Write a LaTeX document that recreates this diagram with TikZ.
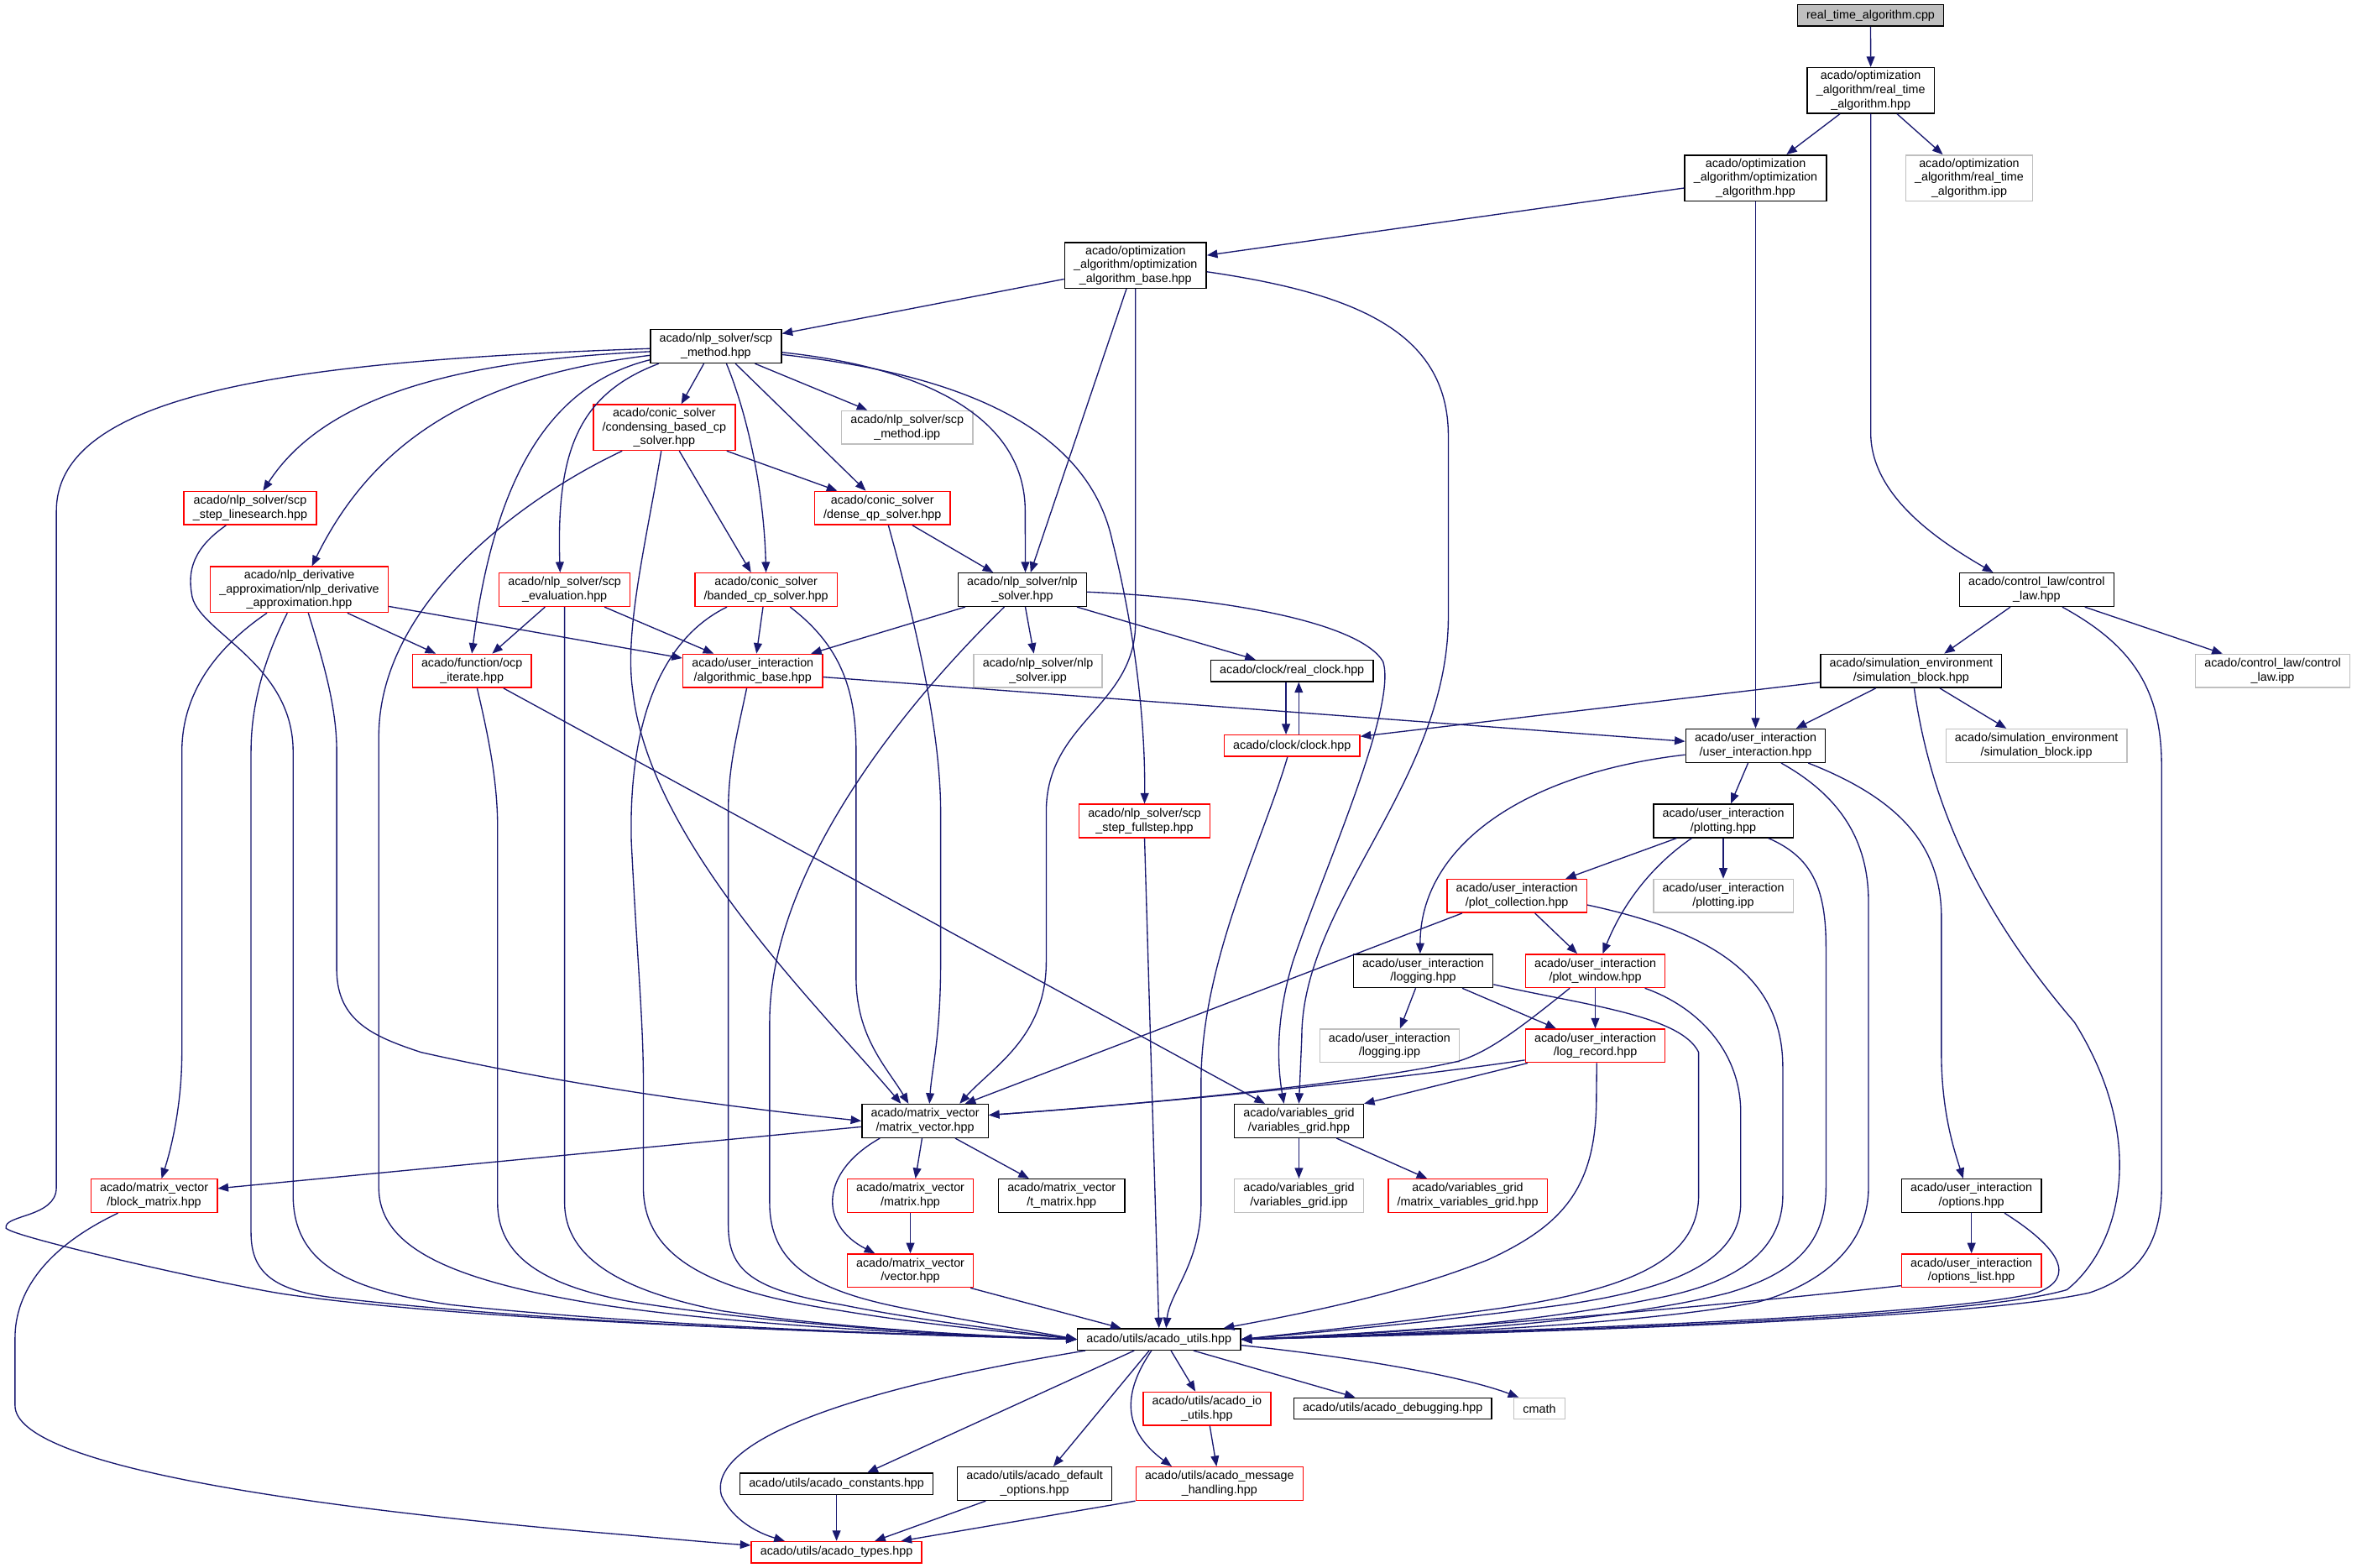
\documentclass[tikz,border=0pt]{standalone}
\usepackage{fontspec}
\usepackage{tikz}
\usetikzlibrary{arrows.meta}
\newfontfamily\graphfont{Liberation Sans}
\newcommand{\grfont}{\graphfont\fontsize{8}{9.3}\selectfont}
\definecolor{edgeblue}{HTML}{191970}
\definecolor{extgray}{HTML}{BFBFBF}
\definecolor{truncred}{HTML}{FF0000}

\begin{document}
\begin{tikzpicture}[x=1pt, y=-1pt,
  filebox/.style={draw=black, line width=0.8pt, align=center, inner xsep=6pt,
    inner ysep=0pt, font=\grfont},
  truncbox/.style={filebox, draw=truncred},
  extbox/.style={filebox, draw=extgray},
  rootbox/.style={filebox, fill=extgray},
  l1/.style={minimum height=14.2pt},
  l2/.style={minimum height=22.2pt},
  l3/.style={minimum height=30.4pt},
  dep/.style={draw=edgeblue, line width=0.75pt, -{Triangle[length=7pt, width=5.5pt]}}
]
\useasboundingbox (0,0) rectangle (1568,1043);

% files
\node[rootbox, l1] (cpp) at (1244.4,10.3) {real\_time\_algorithm.cpp};
\node[filebox, l3] (rtahpp) at (1244.5,60.2) {acado/optimization\\\_algorithm/real\_time\\\_algorithm.hpp};
\node[extbox, l3] (rtaipp) at (1310,118.4) {acado/optimization\\\_algorithm/real\_time\\\_algorithm.ipp};
\node[filebox, l3] (oahpp) at (1167.9,118.4) {acado/optimization\\\_algorithm/optimization\\\_algorithm.hpp};
\node[filebox, l3] (oabhpp) at (755.4,176.5) {acado/optimization\\\_algorithm/optimization\\\_algorithm\_base.hpp};
\node[filebox, l2] (scpmethod) at (476.25,230.4) {acado/nlp\_solver/scp\\\_method.hpp};
\node[extbox, l2] (scpipp) at (603.5,284.3) {acado/nlp\_solver/scp\\\_method.ipp};
\node[truncbox, l3] (condensing) at (441.9,284.4) {acado/conic\_solver\\/condensing\_based\_cp\\\_solver.hpp};
\node[truncbox, l2] (denseqp) at (587,338) {acado/conic\_solver\\/dense\_qp\_solver.hpp};
\node[truncbox, l2] (linesearch) at (166.4,338) {acado/nlp\_solver/scp\\\_step\_linesearch.hpp};
\node[truncbox, l3] (nlpderiv) at (199.1,392.2) {acado/nlp\_derivative\\\_approximation/nlp\_derivative\\\_approximation.hpp};
\node[truncbox, l2] (scpeval) at (375.6,392.3) {acado/nlp\_solver/scp\\\_evaluation.hpp};
\node[truncbox, l2] (banded) at (509.6,392.3) {acado/conic\_solver\\/banded\_cp\_solver.hpp};
\node[filebox, l2] (nlpsolver) at (680.1,392.3) {acado/nlp\_solver/nlp\\\_solver.hpp};
\node[filebox, l2] (controllaw) at (1354.9,392.3) {acado/control\_law/control\\\_law.hpp};
\node[truncbox, l2] (ocpiterate) at (313.9,446.3) {acado/function/ocp\\\_iterate.hpp};
\node[truncbox, l2] (algobase) at (500.75,446.3) {acado/user\_interaction\\/algorithmic\_base.hpp};
\node[extbox, l2] (nlpipp) at (690.5,446.3) {acado/nlp\_solver/nlp\\\_solver.ipp};
\node[filebox, l1] (realclock) at (859.5,446.3) {acado/clock/real\_clock.hpp};
\node[filebox, l2] (simblock) at (1271.4,446.3) {acado/simulation\_environment\\/simulation\_block.hpp};
\node[extbox, l2] (controlipp) at (1511.9,446.3) {acado/control\_law/control\\\_law.ipp};
\node[truncbox, l1] (clock) at (859.5,496.1) {acado/clock/clock.hpp};
\node[filebox, l2] (uihpp) at (1167.9,496.1) {acado/user\_interaction\\/user\_interaction.hpp};
\node[extbox, l2] (simipp) at (1354.75,496.1) {acado/simulation\_environment\\/simulation\_block.ipp};
\node[truncbox, l2] (fullstep) at (761.4,546.1) {acado/nlp\_solver/scp\\\_step\_fullstep.hpp};
\node[filebox, l2] (plotting) at (1146.4,546.1) {acado/user\_interaction\\/plotting.hpp};
\node[truncbox, l2] (plotcoll) at (1009.1,596) {acado/user\_interaction\\/plot\_collection.hpp};
\node[extbox, l2] (plottingipp) at (1146.4,596) {acado/user\_interaction\\/plotting.ipp};
\node[filebox, l2] (logging) at (946.75,645.9) {acado/user\_interaction\\/logging.hpp};
\node[truncbox, l2] (plotwindow) at (1061.25,645.9) {acado/user\_interaction\\/plot\_window.hpp};
\node[extbox, l2] (loggingipp) at (924.4,695.7) {acado/user\_interaction\\/logging.ipp};
\node[truncbox, l2] (logrecord) at (1061.25,695.7) {acado/user\_interaction\\/log\_record.hpp};
\node[filebox, l2] (vargrid) at (864.1,745.7) {acado/variables\_grid\\/variables\_grid.hpp};
\node[filebox, l2] (matvec) at (615.4,745.7) {acado/matrix\_vector\\/matrix\_vector.hpp};
\node[extbox, l2] (vgipp) at (864.1,795.5) {acado/variables\_grid\\/variables\_grid.ipp};
\node[truncbox, l2] (matvg) at (976.4,795.5) {acado/variables\_grid\\/matrix\_variables\_grid.hpp};
\node[truncbox, l2] (blockmat) at (102.5,795.5) {acado/matrix\_vector\\/block\_matrix.hpp};
\node[truncbox, l2] (matrix) at (605.6,795.5) {acado/matrix\_vector\\/matrix.hpp};
\node[filebox, l2] (tmatrix) at (706.25,795.5) {acado/matrix\_vector\\/t\_matrix.hpp};
\node[filebox, l2] (options) at (1311.5,795.5) {acado/user\_interaction\\/options.hpp};
\node[truncbox, l2] (vector) at (605.6,845.3) {acado/matrix\_vector\\/vector.hpp};
\node[truncbox, l2] (optlist) at (1311.5,845.3) {acado/user\_interaction\\/options\_list.hpp};
\node[filebox, l1] (utils) at (771,891) {acado/utils/acado\_utils.hpp};
\node[truncbox, l2] (ioutils) at (802.9,937.1) {acado/utils/acado\_io\\\_utils.hpp};
\node[filebox, l1] (debugging) at (926.5,937) {acado/utils/acado\_debugging.hpp};
\node[extbox, l1] (cmath) at (1024.1,937) {cmath};
\node[filebox, l1] (constants) at (556.5,987.1) {acado/utils/acado\_constants.hpp};
\node[filebox, l2] (defopts) at (688.25,987) {acado/utils/acado\_default\\\_options.hpp};
\node[truncbox, l2] (msghandling) at (811.25,987) {acado/utils/acado\_message\\\_handling.hpp};
\node[truncbox, l1] (types) at (556.5,1032.6) {acado/utils/acado\_types.hpp};

% top of the graph
\draw[dep] (cpp) -- (rtahpp);
\draw[dep] (rtahpp) -- (oahpp);
\draw[dep] (rtahpp) -- (rtaipp);
\draw[dep] (rtahpp.south) -- (1244.5,288) .. controls (1244.5,330) and (1290,360) .. ([xshift=-29pt]controllaw.north);
\draw[dep] (oahpp) -- (oabhpp);
\draw[dep] (oahpp) -- (uihpp);
\draw[dep] (oabhpp) -- (scpmethod);
\draw[dep] ([xshift=-6pt]oabhpp.south) -- ([xshift=5.5pt]nlpsolver.north);
\draw[dep] (oabhpp.south) -- (755.4,414) .. controls (755.4,470) and (696,480) .. (696,540) -- (696,640) .. controls (696,690) and (660,710) .. ([xshift=23pt]matvec.north);
\draw[dep] ([yshift=-4.3pt]oabhpp.east) .. controls (900,195) and (963.5,220) .. (963.5,290) -- (963.5,410) .. controls (963.5,520) and (866,600) .. (866,690) -- (vargrid.north);

% scp method
\draw[dep] ([yshift=-1.5pt]scpmethod.west) .. controls (200,240) and (37.5,260) .. (37.5,340) -- (37.5,790) .. controls (37.5,810) and (2,808) .. (4,817) .. controls (8,823) and (150,855) .. (190,861) .. controls (330,881) and (600,887) .. (utils.west);
\draw[dep] ([yshift=-3.5pt]scpmethod.west) .. controls (300,240) and (215,265) .. ([xshift=8.6pt]linesearch.north);
\draw[dep] ([yshift=-6pt]scpmethod.west) .. controls (320,250) and (250,290) .. ([xshift=8.4pt]nlpderiv.north);
\draw[dep] ([yshift=-9pt]scpmethod.west) .. controls (370,255) and (330,310) .. (ocpiterate.north);
\draw[dep] ([xshift=-38pt]scpmethod.south) .. controls (385,262) and (370,300) .. ([xshift=-3pt]scpeval.north);
\draw[dep] ([xshift=-8pt]scpmethod.south) -- ([xshift=11.3pt]condensing.north);
\draw[dep] ([xshift=7pt]scpmethod.south) .. controls (495,270) and (508,320) .. (banded.north);
\draw[dep] ([xshift=13pt]scpmethod.south) -- ([xshift=-11pt]denseqp.north);
\draw[dep] ([xshift=26pt]scpmethod.south) -- ([xshift=-26.5pt]scpipp.north);
\draw[dep] ([yshift=-4pt]scpmethod.east) .. controls (620,245) and (682,280) .. (682,340) -- ([xshift=2pt]nlpsolver.north);
\draw[dep] ([yshift=-5.5pt]scpmethod.east) .. controls (650,250) and (725,290) .. (740,360) .. controls (755,420) and (762,480) .. (fullstep.north);

% solvers
\draw[dep] ([xshift=-28pt]condensing.south) .. controls (350,330) and (252,400) .. (252,490) -- (252,790) .. controls (252,830) and (300,852) .. (400,868) .. controls (500,883) and (650,889) .. (utils.west);
\draw[dep] ([xshift=-2pt]condensing.south) .. controls (430,360) and (415,420) .. (421,460) .. controls (432,560) and (545,670) .. ([xshift=-16pt]matvec.north);
\draw[dep] ([xshift=10pt]condensing.south) -- ([xshift=-10pt]banded.north);
\draw[dep] ([xshift=-6pt]condensing.south east) -- ([xshift=15.5pt]denseqp.north west);
\draw[dep] ([xshift=20pt]denseqp.south) -- ([xshift=-19.4pt]nlpsolver.north);
\draw[dep] ([xshift=4pt]denseqp.south) .. controls (605,400) and (625.75,480) .. (625.75,540) -- (625.75,640) .. controls (625.75,690) and (620,710) .. ([xshift=2.9pt]matvec.north);
\draw[dep] ([xshift=-16pt]linesearch.south) .. controls (128,365) and (125,380) .. (127.5,395) .. controls (130,420) and (195,440) .. (195,500) -- (195,795) .. controls (195,840) and (230,858) .. (300,868) .. controls (450,884) and (650,889) .. (utils.west);
\draw[dep] ([xshift=-21.5pt]nlpderiv.south) .. controls (145,430) and (121,460) .. (121,500) -- (121,700) .. controls (121,740) and (112,770) .. ([xshift=5pt]blockmat.north);
\draw[dep] ([xshift=-8pt]nlpderiv.south) .. controls (175,440) and (167,470) .. (167,500) -- (167,820) .. controls (167,845) and (180,858) .. (220,863) .. controls (400,884) and (650,889) .. (utils.west);
\draw[dep] ([xshift=6pt]nlpderiv.south) .. controls (215,440) and (224,470) .. (224,500) -- (224,645) .. controls (224,680) and (250,690) .. (280,700) .. controls (400,727) and (520,740) .. (matvec.west);
\draw[dep] ([xshift=32pt]nlpderiv.south) -- ([xshift=-24pt]ocpiterate.north);
\draw[dep] ([yshift=-11.2pt]nlpderiv.east) -- ([yshift=8.5pt]algobase.west);
\draw[dep] ([xshift=-13pt]scpeval.south) -- ([xshift=13.5pt]ocpiterate.north);
\draw[dep] (scpeval.south) -- (375.6,800) .. controls (375.6,840) and (420,860) .. (480,872) .. controls (560,884) and (660,889) .. (utils.west);
\draw[dep] ([xshift=26.5pt]scpeval.south) -- ([xshift=-26pt]algobase.north);
\draw[dep] ([xshift=3.5pt]ocpiterate.south) .. controls (325,490) and (331,520) .. (331,550) -- (331,800) .. controls (331,835) and (360,855) .. (420,866) .. controls (520,882) and (650,889) .. (utils.west);
\draw[dep] ([xshift=21pt]ocpiterate.south) -- ([xshift=-22.6pt]vargrid.north);
\draw[dep] ([xshift=-26pt]banded.south) .. controls (440,425) and (418,480) .. (420,560) .. controls (424,640) and (428,680) .. (428,720) -- (428,790) .. controls (428,840) and (480,860) .. (560,872) .. controls (620,882) and (680,887) .. (utils.west);
\draw[dep] ([xshift=-2pt]banded.south) -- ([xshift=2.5pt]algobase.north);
\draw[dep] ([xshift=16pt]banded.south) .. controls (560,430) and (569.5,460) .. (569.5,500) -- (569.5,650) .. controls (569.5,690) and (590,710) .. ([xshift=-11pt]matvec.north);
\draw[dep] ([xshift=-4pt]algobase.south) .. controls (490,490) and (484.5,510) .. (484.5,540) -- (484.5,815) .. controls (484.5,845) and (500,858) .. (560,868) .. controls (620,880) and (680,886) .. (utils.west);
\draw[dep] ([yshift=-4.1pt]algobase.east) -- ([yshift=2.9pt]uihpp.west);
\draw[dep] ([xshift=-38pt]nlpsolver.south) -- ([xshift=38.75pt]algobase.north);
\draw[dep] ([xshift=-12pt]nlpsolver.south) .. controls (600,470) and (512,580) .. (512,680) -- (512,800) .. controls (512,840) and (540,858) .. (600,870) .. controls (650,880) and (690,886) .. (utils.west);
\draw[dep] ([xshift=2pt]nlpsolver.south) -- ([xshift=-2.75pt]nlpipp.north);
\draw[dep] ([xshift=-6.75pt]nlpsolver.south east) -- ([xshift=-24.25pt]realclock.north);
\draw[dep] ([yshift=-1.5pt]nlpsolver.east) .. controls (820,398) and (905,415) .. (920,440) .. controls (930,470) and (880,580) .. (860,640) .. controls (848,680) and (850,710) .. ([xshift=-10pt]vargrid.north);

% clock, simulation, control law
\draw[dep] ([xshift=-4pt]realclock.south) -- ([xshift=-4pt]clock.north);
\draw[dep] ([xshift=4.5pt]clock.north) -- ([xshift=4.5pt]realclock.south);
\draw[dep] ([xshift=-3pt]clock.south) .. controls (840,560) and (799,640) .. (799,720) -- (799,800) .. controls (799,840) and (778,860) .. ([xshift=4.75pt]utils.north);
\draw[dep] ([yshift=-7.6pt]simblock.west) -- ([yshift=6.2pt]clock.east);
\draw[dep] ([xshift=-23.5pt]simblock.south) -- ([xshift=26.9pt]uihpp.north);
\draw[dep] ([xshift=19pt]simblock.south) -- ([xshift=-20pt]simipp.north);
\draw[dep] ([xshift=2pt]simblock.south) .. controls (1285,540) and (1320,610) .. (1380,680) .. controls (1430,760) and (1410,830) .. (1375,858) .. controls (1300,880) and (950,887) .. (utils.east);
\draw[dep] ([xshift=-17.5pt]controllaw.south) -- ([xshift=22pt]simblock.north);
\draw[dep] ([xshift=32pt]controllaw.south) -- ([xshift=-33.4pt]controlipp.north);
\draw[dep] ([xshift=17pt]controllaw.south) .. controls (1420,430) and (1438,460) .. (1438,510) -- (1438,790) .. controls (1438,830) and (1420,850) .. (1390,860) .. controls (1300,880) and (950,888) .. (utils.east);

% user interaction
\draw[dep] ([xshift=-5pt]uihpp.south) -- ([xshift=5pt]plotting.north);
\draw[dep] ([yshift=-6pt]uihpp.west) .. controls (1010,515) and (944.75,565) .. ([xshift=-2pt]logging.north);
\draw[dep] ([xshift=17pt]uihpp.south) .. controls (1225,530) and (1243,560) .. (1243,600) -- (1243,790) .. controls (1243,830) and (1210,855) .. (1170,866) .. controls (1100,880) and (950,888) .. (utils.east);
\draw[dep] ([xshift=35pt]uihpp.south) .. controls (1260,530) and (1291.5,560) .. (1291.5,610) -- (1291.5,700) .. controls (1291.5,740) and (1300,765) .. ([xshift=-5.5pt]options.north);
\draw[dep] ([xshift=-31pt]plotting.south) -- ([xshift=32.4pt]plotcoll.north);
\draw[dep] ([xshift=-21pt]plotting.south) .. controls (1100,575) and (1080,600) .. ([xshift=5pt]plotwindow.north);
\draw[dep] (plotting) -- (plottingipp);
\draw[dep] ([xshift=30pt]plotting.south) .. controls (1205,570) and (1214.75,590) .. (1214.75,630) -- (1214.75,790) .. controls (1214.75,830) and (1190,848) .. (1150,860) .. controls (1080,878) and (950,888) .. (utils.east);
\draw[dep] ([xshift=-36.4pt]plotcoll.south) -- ([xshift=26.6pt]matvec.north);
\draw[dep] ([xshift=12pt]plotcoll.south) -- ([xshift=-12pt]plotwindow.north);
\draw[dep] ([yshift=-6pt]plotcoll.east) .. controls (1140,620) and (1186,650) .. (1186,710) -- (1186,795) .. controls (1186,835) and (1150,855) .. (1100,864) .. controls (1020,880) and (920,888) .. (utils.east);
\draw[dep] ([xshift=-5pt]logging.south) -- ([xshift=7pt]loggingipp.north);
\draw[dep] ([xshift=26pt]logging.south) -- ([xshift=-26pt]logrecord.north);
\draw[dep] ([yshift=-9pt]logging.east) .. controls (1050,668) and (1118,675) .. (1130,700) -- (1130,795) .. controls (1130,840) and (1080,858) .. (1000,870) .. controls (930,880) and (870,886) .. (utils.east);
\draw[dep] (plotwindow) -- (logrecord);
\draw[dep] ([xshift=-17pt]plotwindow.south) .. controls (1010,685) and (990,700) .. (970,706) .. controls (900,722) and (740,736) .. ([yshift=3.9pt]matvec.east);
\draw[dep] ([xshift=33pt]plotwindow.south) .. controls (1130,670) and (1158,700) .. (1158,740) -- (1158,800) .. controls (1158,840) and (1110,858) .. (1040,868) .. controls (950,880) and (880,886) .. (utils.east);
\draw[dep] ([xshift=-45pt]logrecord.south) -- (vargrid.north east);
\draw[dep] ([yshift=-9.5pt]logrecord.west) .. controls (900,722) and (740,736) .. ([yshift=3.9pt]matvec.east);
\draw[dep] ([xshift=1pt]logrecord.south) -- (1062,730) .. controls (1062,790) and (1040,815) .. (990,838) .. controls (930,862) and (860,875) .. ([xshift=43pt]utils.north);
\draw[dep] (options) -- (optlist);
\draw[dep] ([xshift=22pt]options.south) .. controls (1370,830) and (1382,850) .. (1355,860) .. controls (1280,878) and (950,887) .. (utils.east);
\draw[dep] ([yshift=-10pt]optlist.west) .. controls (1150,868) and (950,886) .. (utils.east);

% grids and matrices
\draw[dep] (vargrid) -- (vgipp);
\draw[dep] ([xshift=25pt]vargrid.south) -- ([xshift=-27pt]matvg.north);
\draw[dep] ([yshift=-3.9pt]matvec.west) -- ([yshift=4.9pt]blockmat.east);
\draw[dep] ([xshift=-2pt]matvec.south) -- ([xshift=3.4pt]matrix.north);
\draw[dep] ([xshift=20pt]matvec.south) -- ([xshift=-21.75pt]tmatrix.north);
\draw[dep] ([xshift=-30pt]matvec.south) .. controls (545,780) and (545,815) .. ([xshift=-23.6pt]vector.north);
\draw[dep] (matrix) -- (vector);
\draw[dep] ([xshift=40pt]vector.south) -- ([xshift=-25.25pt]utils.north);
\draw[dep] (fullstep.south) -- (utils.north);
\draw[dep] ([xshift=-24pt]blockmat.south) .. controls (30,830) and (10,860) .. (10,890) -- (10,935) .. controls (10,975) and (200,1002) .. (392,1019) .. controls (440,1023) and (470,1026) .. ([yshift=4.6pt]types.west);

% utils
\draw[dep] ([xshift=-49pt]utils.south) .. controls (560,925) and (470,960) .. (480,995) .. controls (488,1012) and (505,1020) .. ([xshift=-34.5pt]types.north);
\draw[dep] ([xshift=-16.5pt]utils.south) -- ([xshift=20.5pt]constants.north);
\draw[dep] ([xshift=-6.5pt]utils.south) -- ([xshift=12.5pt]defopts.north);
\draw[dep] ([xshift=-5pt]utils.south) .. controls (748,925) and (745,950) .. ([xshift=-31.75pt]msghandling.north);
\draw[dep] ([xshift=8pt]utils.south) -- ([xshift=-7.65pt]ioutils.north);
\draw[dep] ([xshift=23pt]utils.south) -- ([xshift=-25pt]debugging.north);
\draw[dep] ([yshift=-3.9pt]utils.east) .. controls (920,905) and (980,918) .. ([xshift=-13.85pt]cmath.north);
\draw[dep] (ioutils) -- (msghandling);
\draw[dep] (constants) -- (types);
\draw[dep] ([xshift=-32.5pt]defopts.south) -- ([xshift=25.5pt]types.north);
\draw[dep] (msghandling.south west) -- ([xshift=43pt]types.north);
\end{tikzpicture}
\end{document}
